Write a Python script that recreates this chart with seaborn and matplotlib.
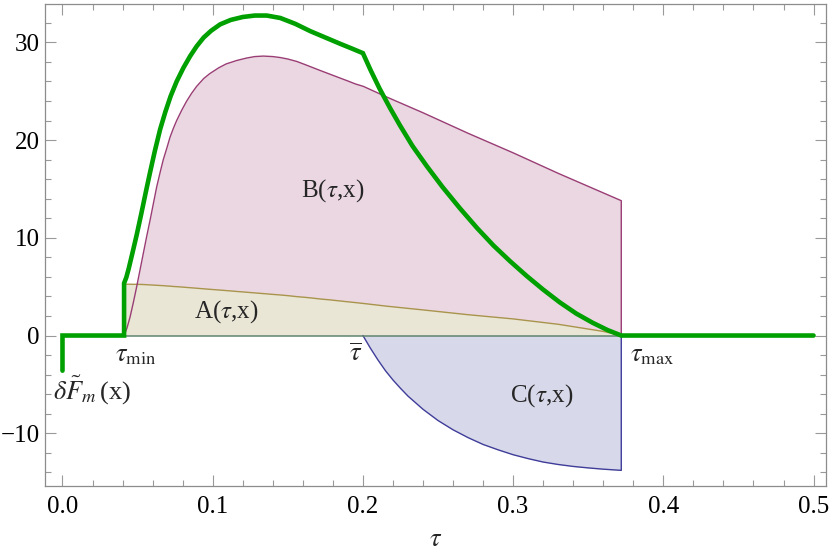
import numpy as np
import pandas as pd
import matplotlib
matplotlib.use("Agg")
import matplotlib.pyplot as plt
import seaborn as sns

# ---- data ----
tau_AB = [0.041, 0.043, 0.045, 0.0472, 0.0494, 0.0516, 0.0538, 0.056, 0.0583,
          0.0605, 0.0627, 0.065, 0.0671, 0.0695, 0.0716, 0.0738, 0.076, 0.0795,
          0.0827, 0.086, 0.0893, 0.094, 0.098, 0.104, 0.109, 0.116, 0.1226,
          0.128, 0.1337, 0.14, 0.145, 0.15, 0.156, 0.162, 0.167, 0.172, 0.178,
          0.184, 0.19, 0.195, 0.2003, 0.216, 0.24, 0.27, 0.3, 0.33, 0.36, 0.372]
val_A = [5.25, 5.25, 5.25, 5.24, 5.24, 5.23, 5.22, 5.20, 5.18,
         5.16, 5.14, 5.12, 5.10, 5.07, 5.05, 5.02, 5.00, 4.96,
         4.92, 4.88, 4.84, 4.78, 4.73, 4.66, 4.60, 4.51, 4.43,
         4.36, 4.29, 4.21, 4.15, 4.08, 3.98, 3.90, 3.82, 3.73, 3.65,
         3.55, 3.45, 3.37, 3.28, 3.00, 2.62, 2.13, 1.70, 1.15, 0.42, 0.0]
val_B = [0.0, 0.8, 1.9, 3.4, 5.0, 6.7, 8.4, 10.1, 11.8,
         13.5, 15.2, 16.7, 18.0, 19.2, 20.3, 21.2, 22.0, 23.1,
         24.0, 24.8, 25.5, 26.3, 26.8, 27.4, 27.8, 28.15, 28.4,
         28.55, 28.6, 28.55, 28.45, 28.3, 28.05, 27.7, 27.4, 27.1, 26.75,
         26.4, 26.05, 25.75, 25.5, 24.4, 22.8, 20.7, 18.7, 16.6, 14.6, 13.8]

tau_C = [0.2, 0.205, 0.21, 0.215, 0.22, 0.225, 0.23, 0.24, 0.25, 0.26, 0.27,
         0.28, 0.29, 0.3, 0.31, 0.32, 0.33, 0.34, 0.35, 0.36, 0.372, 0.372]
val_C = [0.0, -1.3, -2.5, -3.6, -4.55, -5.4, -6.2, -7.55, -8.7, -9.65, -10.45,
         -11.15, -11.7, -12.2, -12.6, -12.95, -13.2, -13.4, -13.55, -13.68,
         -13.8, 0.0]

tau_F = [0.0, 0.0, 0.041, 0.041, 0.0425, 0.044, 0.0465, 0.0494, 0.0525, 0.0555,
         0.0583, 0.0615, 0.065, 0.0685, 0.072, 0.076, 0.0805, 0.085, 0.0893,
         0.094, 0.099, 0.105, 0.112, 0.12, 0.128, 0.136, 0.145, 0.155, 0.165,
         0.175, 0.185, 0.193, 0.2, 0.205, 0.211, 0.218, 0.2247, 0.233, 0.2427,
         0.253, 0.2647, 0.276, 0.287, 0.298, 0.309, 0.32, 0.331, 0.342, 0.353,
         0.363, 0.372, 0.5]
val_F = [-3.6, 0.0, 0.0, 5.35, 5.95, 6.8, 8.4, 10.3, 12.5, 14.7,
         16.7, 18.9, 21.1, 22.9, 24.5, 26.0, 27.4, 28.6, 29.6,
         30.5, 31.2, 31.85, 32.3, 32.6, 32.75, 32.75, 32.5, 31.9, 31.15,
         30.5, 29.85, 29.35, 28.9, 27.2, 25.3, 23.3, 21.5, 19.4, 17.3,
         15.2, 13.0, 11.0, 9.2, 7.6, 6.1, 4.7, 3.4, 2.25, 1.3,
         0.55, 0.0, 0.0]

tau_min, tau_bar, tau_max = 0.041, 0.2, 0.372

x_ticks = [0.0, 0.1, 0.2, 0.3, 0.4, 0.5]
x_ticklabels = ["0.0", "0.1", "0.2", "0.3", "0.4", "0.5"]
y_ticks = [-10, 0, 10, 20, 30]
y_ticklabels = ["\u221210", "0", "10", "20", "30"]

# ---- style ----
sns.set_style("ticks")
plt.rcParams["font.family"] = ["Liberation Serif", "DejaVu Serif"]
plt.rcParams["mathtext.fontset"] = "stix"

col_A = "#a8944a"
col_B = "#993d74"
col_C = "#3f3d99"
fill_A = "#eae6d6"
fill_B = "#ebd7e2"
fill_C = "#d7d8ea"
green = "#00a000"

fig = plt.figure(figsize=(8.3, 5.57), dpi=100)
ax = fig.add_axes([0.0542, 0.1275, 0.9410, 0.8653])

tA = np.array(tau_AB)
A = np.array(val_A)
B = np.array(val_B)

# fills
ax.fill_between(tA, 0, A, color=fill_A, lw=0, zorder=1)
ax.fill_between(tA, A, B, where=B >= A, interpolate=True,
                color=fill_B, lw=0, zorder=1)
ax.fill_between(tau_C, val_C, 0, color=fill_C, lw=0, zorder=1)

# edges
dfA = pd.DataFrame({"t": tau_AB, "v": val_A})
dfB = pd.DataFrame({"t": tau_AB + [tau_max], "v": val_B + [0.0]})
dfC = pd.DataFrame({"t": tau_C, "v": val_C})
sns.lineplot(data=dfA, x="t", y="v", color=col_A, lw=1.0, sort=False,
             estimator=None, ax=ax, zorder=2)
sns.lineplot(data=dfB, x="t", y="v", color=col_B, lw=1.0, sort=False,
             estimator=None, ax=ax, zorder=2)
sns.lineplot(data=dfC, x="t", y="v", color=col_C, lw=1.0, sort=False,
             estimator=None, ax=ax, zorder=2)
ax.plot([tau_min, tau_max], [0, 0], color="#5f8470", lw=1.1, zorder=2)

# total
dfF = pd.DataFrame({"t": tau_F, "v": val_F})
sns.lineplot(data=dfF, x="t", y="v", color=green, lw=3.3, sort=False,
             estimator=None, ax=ax, zorder=4, solid_joinstyle="miter")

# labels
fs = 18
ax.text(0.180, 14.8, r"B($\tau$,x)", fontsize=fs, ha="center", va="center", zorder=5)
ax.text(0.109, 2.5, r"A($\tau$,x)", fontsize=fs, ha="center", va="center", zorder=5)
ax.text(0.319, -6.1, r"C($\tau$,x)", fontsize=fs, ha="center", va="center", zorder=5)
ax.text(0.049, -2.1, r"$\tau_{\mathrm{min}}$", fontsize=fs + 1, ha="center", va="center")
ax.text(0.195, -1.9, r"$\overline{\tau}$", fontsize=fs + 1, ha="center", va="center")
ax.text(0.3925, -2.1, r"$\tau_{\mathrm{max}}$", fontsize=fs + 1, ha="center", va="center")
ax.text(0.0196, -5.6, r"$\delta\tilde{F}_m\,$(x)", fontsize=fs + 1, ha="center", va="center")

ax.set_xlim(-0.01165, 0.5083)
ax.set_ylim(-15.40, 33.93)

ax.set_xticks(x_ticks)
ax.set_xticklabels(x_ticklabels)
ax.set_xticks(np.arange(0, 0.5001, 0.02), minor=True)
ax.set_yticks(y_ticks)
ax.set_yticklabels(y_ticklabels)
ax.set_yticks(np.arange(-14, 33, 2), minor=True)
ax.tick_params(which="both", direction="in", top=True, right=True,
               color="#9a9a9a", width=0.8, labelsize=18, labelcolor="black")
ax.tick_params(which="major", length=8)
ax.tick_params(which="minor", length=4)
ax.tick_params(axis="x", pad=7)
ax.tick_params(axis="y", pad=4)
for s in ax.spines.values():
    s.set_color("#8c8c8c")
    s.set_linewidth(0.9)

ax.set_xlabel(r"$\tau$", fontsize=19, labelpad=8)
ax.set_ylabel("")

fig.savefig("out.png", dpi=100)
